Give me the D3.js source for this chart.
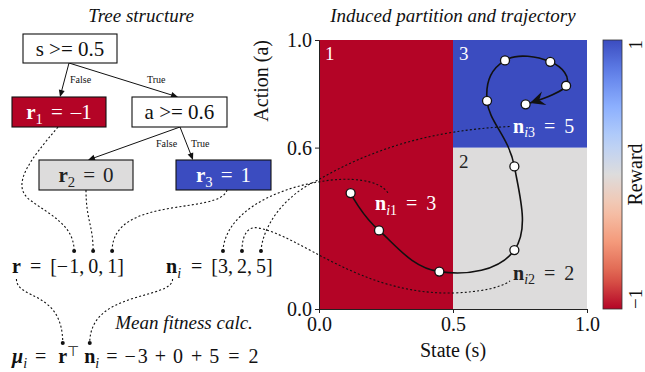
<!DOCTYPE html>
<html><head><meta charset="utf-8">
<script src="https://cdn.jsdelivr.net/npm/d3@7"></script>
<style>
html,body{margin:0;padding:0;background:#fff;}
svg, svg text{font-family:"Liberation Serif","Times New Roman",serif;}
svg{display:block;}
</style>
</head><body>
<svg id="chart" width="645" height="372" font-family="Liberation Serif, serif"></svg>
<script>
// ---------------- data ----------------
const trajS = [0.118, 0.224, 0.449, 0.729, 0.729, 0.627, 0.694, 0.863, 0.922, 0.771];
const trajA = [0.431, 0.292, 0.139, 0.219, 0.530, 0.774, 0.924, 0.919, 0.830, 0.761];
const splitS = 0.5;
const splitA = 0.6;
const leafIds = [1, 2, 3];
const leafRewards = [-1, 0, 1];
const leafCounts = [3, 2, 5];
const leafS0 = [0, splitS, splitS];
const leafS1 = [splitS, 1, 1];
const leafA0 = [0, 0, splitA];
const leafA1 = [1, splitA, 1];
const xTicks = [0.0, 0.5, 1.0];
const yTicks = [0.0, 0.6, 1.0];
const cbTicks = [-1, 1];
const coolwarmStops = ["#3b4cc0","#6282ea","#8db0fe","#b8d0f9","#dddcdc","#f5c4ad","#f49a7b","#de604d","#b40426"];

// ---------------- setup ----------------
const FONT = '"Liberation Serif", serif';
const svg = d3.select("#chart");
const ink = "#111";
const x = d3.scaleLinear().domain([0, 1]).range([319, 587]);
const y = d3.scaleLinear().domain([0, 1]).range([309, 40]);
const coolwarm = d3.piecewise(d3.interpolateRgb, coolwarmStops);
const color = d3.scaleSequential(coolwarm).domain([1, -1]);
const textOn = r => (r === 0 ? "#222" : "#fff");

function mathText(g, px, py, pieces, opts) {
  const size = opts.size || 20;
  const t = g.append("text").attr("x", px).attr("y", py).attr("font-family", FONT)
    .attr("font-size", size).attr("fill", opts.fill || ink)
    .attr("text-anchor", opts.anchor || "start");
  let shift = 0, count = 0;
  const keys = {};
  pieces.forEach(p => {
    const ts = t.append("tspan").text(p.t);
    const target = p.sub ? 4.5 : p.sup ? -7.5 : 0;
    if (p.dx) ts.attr("dx", p.dx);
    if (target - shift) ts.attr("dy", target - shift);
    shift = target;
    if (p.sub || p.sup) ts.attr("font-size", size * 0.7);
    if (p.b) ts.attr("font-weight", "bold");
    if (p.i) ts.attr("font-style", "italic");
    if (p.key) keys[p.key] = [count, count + p.t.length - 1];
    count += p.t.length;
  });
  const node = t.node();
  const centerOf = k => {
    const [a, b] = keys[k];
    const e0 = node.getExtentOfChar(a), e1 = node.getExtentOfChar(b);
    return (e0.x + e1.x + e1.width) / 2;
  };
  return { node: t, centerOf };
}

function arrowHead(g, tip, dir, len, halfW, notch) {
  const ux = dir[0], uy = dir[1], px = -uy, py = ux;
  const bx = tip[0] - ux * len, by = tip[1] - uy * len;
  const nx = tip[0] - ux * len * notch, ny = tip[1] - uy * len * notch;
  g.append("path")
    .attr("d", `M${tip[0]},${tip[1]}L${bx + px * halfW},${by + py * halfW}L${nx},${ny}L${bx - px * halfW},${by - py * halfW}Z`)
    .attr("fill", ink);
}
function arrow(g, x1, y1, x2, y2) {
  const L = Math.hypot(x2 - x1, y2 - y1), ux = (x2 - x1) / L, uy = (y2 - y1) / L;
  g.append("line").attr("x1", x1).attr("y1", y1).attr("x2", x2 - ux * 6).attr("y2", y2 - uy * 6)
    .attr("stroke", ink).attr("stroke-width", 1);
  arrowHead(g, [x2, y2], [ux, uy], 7, 3, 1);
}
function label(g, tx, ty, txt, size, extra) {
  const t = g.append("text").attr("x", tx).attr("y", ty).attr("font-family", FONT)
    .attr("font-size", size).attr("fill", ink).text(txt);
  if (extra) extra(t);
  return t;
}

// ---------------- titles ----------------
label(svg, 141, 22, "Tree structure", 19, t => t.attr("text-anchor", "middle").attr("font-style", "italic"));
label(svg, 453, 22, "Induced partition and trajectory", 19, t => t.attr("text-anchor", "middle").attr("font-style", "italic"));
label(svg, 184, 329, "Mean fitness calc.", 19, t => t.attr("text-anchor", "middle").attr("font-style", "italic"));

// ---------------- plot ----------------
const plot = svg.append("g");
const leaves = leafIds.map((id, i) => ({ id, i, s0: leafS0[i], s1: leafS1[i], a0: leafA0[i], a1: leafA1[i], r: leafRewards[i], n: leafCounts[i] }));

plot.selectAll("rect.leaf").data(leaves).join("rect").attr("class", "leaf")
  .attr("x", d => x(d.s0)).attr("y", d => y(d.a1))
  .attr("width", d => x(d.s1) - x(d.s0)).attr("height", d => y(d.a0) - y(d.a1))
  .attr("fill", d => color(d.r));

plot.selectAll("text.leafid").data(leaves).join("text").attr("class", "leafid")
  .attr("x", d => x(d.s0) + 6).attr("y", d => y(d.a1) + 20).attr("font-family", FONT)
  .attr("font-size", 19).attr("fill", d => textOn(d.r)).text(d => d.id);

// trajectory
const traj = trajS.map((s, i) => ({ s, a: trajA[i] }));
const line = d3.line().x(d => x(d.s)).y(d => y(d.a)).curve(d3.curveCardinal.tension(-0.2));
const tp = plot.append("path").datum(traj).attr("d", line)
  .attr("fill", "none").attr("stroke", ink).attr("stroke-width", 1.6);
{
  const node = tp.node(), L = node.getTotalLength();
  const p1 = node.getPointAtLength(L - 4.5), p0 = node.getPointAtLength(L - 16);
  const d = Math.hypot(p1.x - p0.x, p1.y - p0.y);
  arrowHead(plot, [p1.x, p1.y], [(p1.x - p0.x) / d, (p1.y - p0.y) / d], 15, 7, 0.65);
}
plot.selectAll("circle.pt").data(traj).join("circle").attr("class", "pt")
  .attr("cx", d => x(d.s)).attr("cy", d => y(d.a)).attr("r", 4.5)
  .attr("fill", "#fff").attr("stroke", ink).attr("stroke-width", 1.3);

// axes
const fmt = d3.format(".1f");
const xAxis = plot.append("g").attr("transform", `translate(0,${y(0)})`)
  .call(d3.axisBottom(x).tickValues(xTicks).tickFormat(fmt).tickSize(4).tickSizeOuter(0).tickPadding(4));
const yAxis = plot.append("g").attr("transform", `translate(${x(0)},0)`)
  .call(d3.axisLeft(y).tickValues(yTicks).tickFormat(fmt).tickSize(4).tickSizeOuter(0).tickPadding(3));
[xAxis, yAxis].forEach(a => {
  a.attr("font-family", FONT);
  a.selectAll("text").attr("font-size", 20).attr("font-family", FONT).attr("fill", ink);
  a.selectAll("line,path").attr("stroke", "#222");
});
label(plot, 453, 357, "State (s)", 20, t => t.attr("text-anchor", "middle"));
label(plot, 0, 0, "Action (a)", 20, t => t.attr("x", null).attr("y", null)
  .attr("transform", `translate(268,${y(1)}) rotate(-90)`).attr("text-anchor", "end"));

// n labels inside regions
const nLabelPos = [[0.209, 0.368], [0.724, 0.108], [0.724, 0.656]];
const nLabelAnchor = [];
leaves.forEach((d, i) => {
  const [ls, la] = nLabelPos[i];
  mathText(plot, x(ls), y(la), [
    { t: "n", b: 1 }, { t: "i", i: 1, sub: 1 }, { t: String(d.id), sub: 1 },
    { t: "=", dx: 9 }, { t: String(d.n), dx: 9 }
  ], { size: 20, fill: textOn(d.r) });
  nLabelAnchor.push([x(ls), y(la)]);
});

// colorbar
const cbX = 603, cbW = 19;
const cbY = d3.scaleLinear().domain([-1, 1]).range([y(0), y(1)]);
const grad = svg.append("defs").append("linearGradient").attr("id", "cbgrad")
  .attr("x1", 0).attr("y1", 1).attr("x2", 0).attr("y2", 0);
d3.range(0, 1.0001, 0.05).forEach(t => {
  grad.append("stop").attr("offset", t).attr("stop-color", color(-1 + 2 * t));
});
svg.append("rect").attr("x", cbX).attr("y", cbY(1)).attr("width", cbW).attr("height", cbY(-1) - cbY(1))
  .attr("fill", "url(#cbgrad)").attr("stroke", "#333").attr("stroke-width", 0.8);
svg.selectAll("text.cbt").data(cbTicks).join("text").attr("class", "cbt")
  .attr("transform", d => `translate(642,${cbY(d)}) rotate(-90)`).attr("font-family", FONT)
  .attr("text-anchor", d => (d > 0 ? "end" : "start"))
  .attr("font-size", 19).attr("fill", ink).text(d => (d < 0 ? "\u2212" + Math.abs(d) : d));
label(svg, 0, 0, "Reward", 20, t => t.attr("x", null).attr("y", null)
  .attr("transform", `translate(642,${cbY(0)}) rotate(-90)`).attr("text-anchor", "middle"));

// ---------------- tree ----------------
const tree = svg.append("g");
const boxes = {
  root: { x: 23, y: 34, w: 94, h: 29 },
  left: { x: 12, y: 97, w: 94, h: 30 },
  cond: { x: 132, y: 97, w: 95, h: 30 },
  l2: { x: 39, y: 160, w: 94, h: 30 },
  l3: { x: 176, y: 160, w: 95, h: 30 }
};
const leafBox = [boxes.left, boxes.l2, boxes.l3];

arrow(tree, 69, 63, 60, 97);
arrow(tree, 69, 63, 178, 97);
arrow(tree, 180, 127, 88, 160);
arrow(tree, 180, 127, 193, 160);
[["False", 70, 83], ["True", 147, 83], ["False", 156, 147], ["True", 191, 147]].forEach(([t, lx, ly]) => {
  label(tree, lx, ly, t, 10);
});

[boxes.root, boxes.cond].forEach((b, k) => {
  tree.append("rect").attr("x", b.x).attr("y", b.y).attr("width", b.w).attr("height", b.h)
    .attr("fill", "#fff").attr("stroke", ink).attr("stroke-width", 1.1);
  label(tree, b.x + b.w / 2, b.y + b.h / 2 + 7, k === 0 ? `s >= ${splitS}` : `a >= ${splitA}`, 21,
    t => t.attr("text-anchor", "middle"));
});
leaves.forEach((d, i) => {
  const b = leafBox[i];
  tree.append("rect").attr("x", b.x).attr("y", b.y).attr("width", b.w).attr("height", b.h)
    .attr("fill", color(d.r)).attr("stroke", ink).attr("stroke-width", 1.1);
  mathText(tree, b.x + b.w / 2, b.y + b.h / 2 + 7, [
    { t: "r", b: 1 }, { t: String(d.id), sub: 1 }, { t: "=", dx: 8 },
    { t: (d.r < 0 ? "\u2013" : "") + Math.abs(d.r), dx: 8 }
  ], { size: 21, fill: textOn(d.r), anchor: "middle" });
});

// ---------------- vector labels & equation ----------------
const eqG = svg.append("g");
const rVec = mathText(eqG, 12, 273, [
  { t: "r", b: 1, key: "r" }, { t: "=", dx: 9 }, { t: "[", dx: 9 },
  { t: "\u2212" }, { t: String(Math.abs(leafRewards[0])), dx: 1, key: "v0" }, { t: "," },
  { t: String(leafRewards[1]), dx: 4, key: "v1" }, { t: "," },
  { t: String(leafRewards[2]), dx: 4, key: "v2" }, { t: "]" }
], { size: 20 });
const nVec = mathText(eqG, 166, 273, [
  { t: "n", b: 1, key: "n" }, { t: "i", i: 1, sub: 1 }, { t: "=", dx: 10 }, { t: "[", dx: 9 },
  { t: String(leafCounts[0]), key: "v0" }, { t: "," },
  { t: String(leafCounts[1]), dx: 4, key: "v1" }, { t: "," },
  { t: String(leafCounts[2]), dx: 4, key: "v2" }, { t: "]" }
], { size: 20 });
const products = leafRewards.map((r, i) => r * leafCounts[i]);
const mu = d3.sum(products);
const eq = mathText(eqG, 12, 363, [
  { t: "\u03bc", b: 1, i: 1 }, { t: "i", i: 1, sub: 1 }, { t: "=", dx: 8 },
  { t: "r", b: 1, dx: 12, key: "r" }, { t: "\u22a4", sup: 1 },
  { t: "n", b: 1, dx: 5, key: "n" }, { t: "i", i: 1, sub: 1 }, { t: "=", dx: 7 },
  { t: "\u2212", dx: 7 }, { t: String(Math.abs(products[0])), dx: 2 },
  { t: "+", dx: 7 }, { t: String(Math.abs(products[1])), dx: 7 },
  { t: "+", dx: 8 }, { t: String(products[2]), dx: 7 },
  { t: "=", dx: 9 }, { t: String(mu), dx: 9 }
], { size: 20 });

const rDots = ["v0", "v1", "v2"].map(k => [rVec.centerOf(k), 251]);
const nDots = ["v0", "v1", "v2"].map(k => [nVec.centerOf(k), 251]);
const eqDotR = [eq.centerOf("r"), 343];
const eqDotN = [eq.centerOf("n"), 343];
const rLab = [rVec.centerOf("r"), 279];
const nLab = [nVec.centerOf("n") + 1, 279];

// ---------------- dotted connectors ----------------
const conn = svg.append("g").attr("fill", "none").attr("stroke", ink)
  .attr("stroke-width", 1.1).attr("stroke-dasharray", "2,2.2");
const lb = leafBox;
const paths = [
  `M${lb[0].x + 46},${lb[0].y + lb[0].h} C30,160 10,185 30,200 C50,215 ${rDots[0][0]},225 ${rDots[0][0]},${rDots[0][1]}`,
  `M${lb[1].x + 47},${lb[1].y + lb[1].h} C${lb[1].x + 47},220 ${rDots[1][0]},225 ${rDots[1][0]},${rDots[1][1]}`,
  `M${lb[2].x + 51},${lb[2].y + lb[2].h} C${lb[2].x + 44},215 ${rDots[2][0]},195 ${rDots[2][0]},${rDots[2][1]}`,
  `M${rLab[0]},${rLab[1]} C${rLab[0]},300 ${eqDotR[0]},290 ${eqDotR[0]},${eqDotR[1]}`,
  `M${nLab[0]},${nLab[1]} C${nLab[0]},300 ${eqDotN[0]},290 ${eqDotN[0]},${eqDotN[1]}`,
  `M${nDots[0][0]},${nDots[0][1]} C${nDots[0][0] + 2},215 270,190 318,182 C350,176 380,180 ${nLabelAnchor[0][0] + 13},${nLabelAnchor[0][1] - 17}`,
  `M${nDots[1][0]},${nDots[1][1]} C${nDots[1][0]},232 250,226 258,228 C300,235 360,295 453,293 C480,292 500,288 ${nLabelAnchor[1][0] - 3},${nLabelAnchor[1][1] + 1}`,
  `M${nDots[2][0]},${nDots[2][1]} C${nDots[2][0] + 2},225 285,195 318,180 C370,150 430,130 ${nLabelAnchor[2][0] - 3},${nLabelAnchor[2][1] - 6}`
];
paths.forEach(d => conn.append("path").attr("d", d));

const dots = svg.append("g").attr("fill", ink);
[...rDots, ...nDots, eqDotR, eqDotN].forEach(p => dots.append("circle").attr("cx", p[0]).attr("cy", p[1]).attr("r", 2));
</script>
</body></html>
